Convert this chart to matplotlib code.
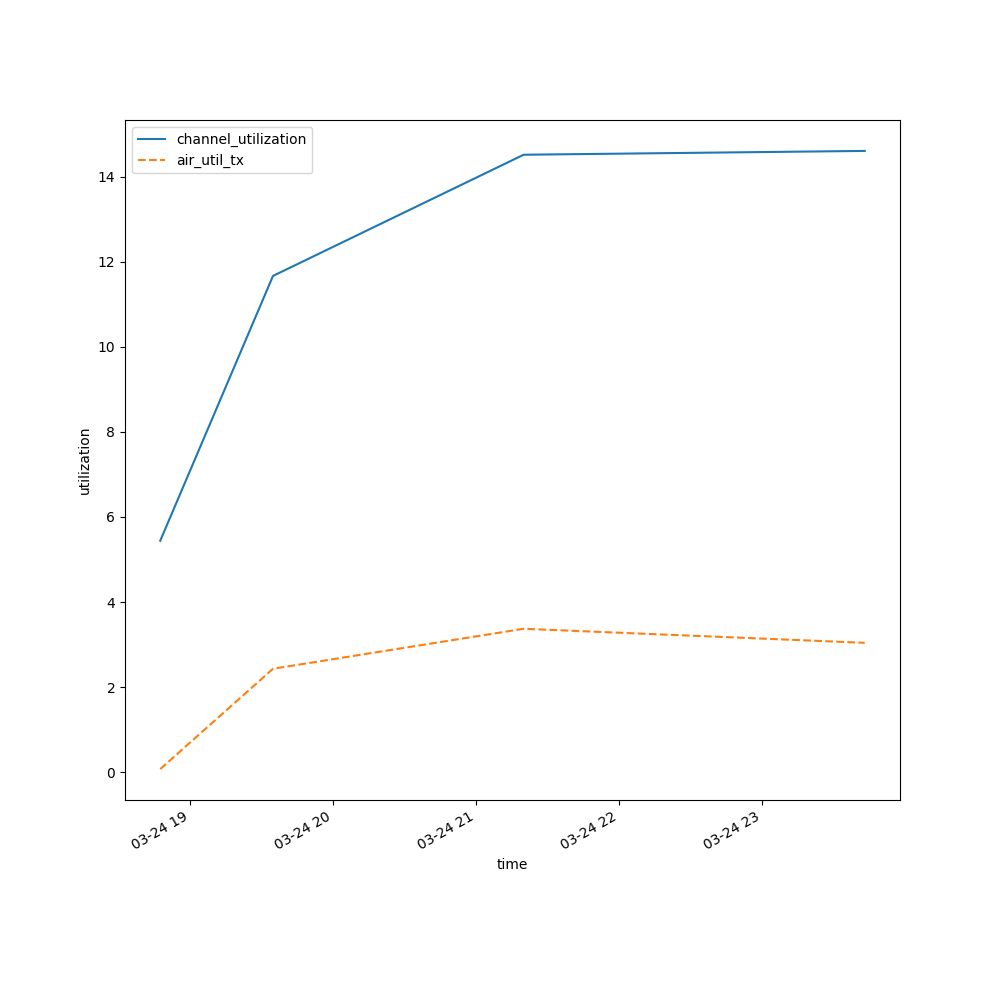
import matplotlib
matplotlib.use("Agg")
import matplotlib.pyplot as plt
import matplotlib.dates as mdates
import pandas as pd

times = pd.to_datetime(["2024-03-24 18:47:30", "2024-03-24 19:34:50",
                        "2024-03-24 21:20:00", "2024-03-24 23:43:10"])
channel_utilization = [5.44, 11.67, 14.52, 14.61]
air_util_tx = [0.07, 2.43, 3.37, 3.04]

fig, ax = plt.subplots(figsize=(10, 10), dpi=100)
ax.plot(times, channel_utilization, label="channel_utilization", color="#1f77b4")
ax.plot(times, air_util_tx, label="air_util_tx", color="#ff7f0e", linestyle="--")
ax.xaxis.set_major_locator(mdates.HourLocator())
ax.xaxis.set_major_formatter(mdates.DateFormatter("%m-%d %H"))
ax.set_xlabel("time")
ax.set_ylabel("utilization")
ax.legend(loc="upper left")
fig.autofmt_xdate()
fig.savefig("out.png")
